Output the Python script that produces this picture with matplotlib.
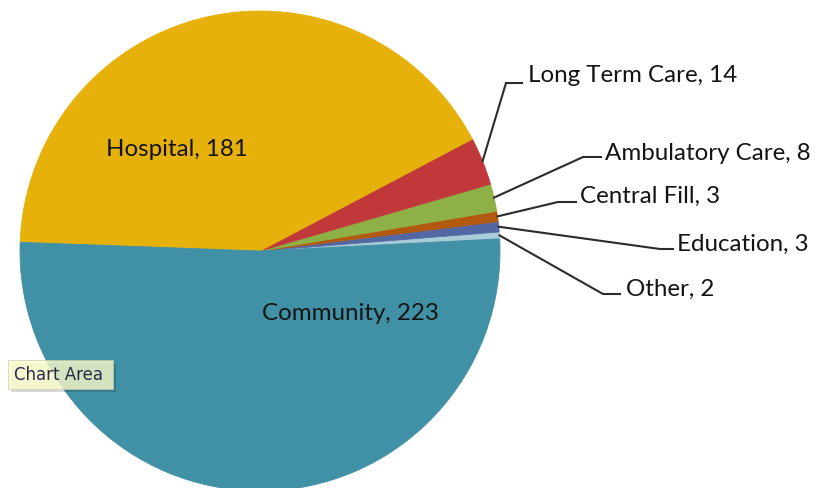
import matplotlib
matplotlib.use("Agg")
import matplotlib.pyplot as plt
import numpy as np
from matplotlib.patches import FancyBboxPatch

# ---- data ----
categories = ["Other", "Education", "Central Fill", "Ambulatory Care",
              "Long Term Care", "Hospital", "Community"]
values = [2, 3, 3, 8, 14, 181, 223]
colors = ["#a9ccd8", "#5368a3", "#b3590f", "#8db146", "#c0383a", "#e6b10a", "#4091a5"]

# ---- layout (pixel coordinates, y measured from top) ----
W, H = 821, 488
center_px = (260, 251)
radius_px = 240
start_angle = 2.9
inside_labels = {"Hospital": (177, 150), "Community": (350, 313)}
# elbow point, end of horizontal stub, text x, text center y
outside_labels = {
    "Long Term Care": ((506, 83), 522, 528, 76),
    "Ambulatory Care": ((583, 157), 601, 605, 154),
    "Central Fill": ((558, 202), 576, 580, 196),
    "Education": ((660, 249), 673, 677, 244),
    "Other": ((603, 294), 620, 626, 289),
}

plt.rcParams['font.family'] = ['Lato', 'DejaVu Sans']
fig = plt.figure(figsize=(W / 100, H / 100), dpi=100)
ax = fig.add_axes([0, 0, 1, 1])

def py(y):
    return H - y

wedges, _ = ax.pie(values, colors=colors, startangle=start_angle, counterclock=True,
                   center=(center_px[0], py(center_px[1])), radius=radius_px,
                   wedgeprops=dict(linewidth=0.6, edgecolor=None))
for w, c in zip(wedges, colors):
    w.set_edgecolor(c)

ax.set_xlim(0, W)
ax.set_ylim(0, H)
ax.set_aspect('equal')
ax.axis('off')

fs = 17.4
txt_color = "#141414"
for name, v in zip(categories, values):
    label = f"{name}, {v}"
    if name in inside_labels:
        x, y = inside_labels[name]
        ax.text(x, py(y), label, ha='center', va='center', fontsize=fs, color=txt_color)
    else:
        w = wedges[categories.index(name)]
        mid = np.deg2rad((w.theta1 + w.theta2) / 2)
        sx = center_px[0] + radius_px * np.cos(mid)
        sy = py(center_px[1]) + radius_px * np.sin(mid)
        (ex, ey), hx, tx, ty = outside_labels[name]
        ax.plot([sx, ex, hx], [sy, py(ey), py(ey)], color="#2b2b2b", lw=1.5,
                solid_joinstyle='miter', clip_on=False)
        ax.text(tx, py(ty), label, ha='left', va='center', fontsize=fs, color=txt_color)

# "Chart Area" tooltip
shadow = FancyBboxPatch((11, py(392)), 105, 28, boxstyle="square,pad=0",
                        facecolor="#000000", alpha=0.15, edgecolor='none')
ax.add_patch(shadow)
tip = FancyBboxPatch((8, py(389)), 105, 29, boxstyle="square,pad=0",
                     facecolor="#fdfdcc", alpha=0.8, edgecolor="#c8c8b0", lw=0.6)
ax.add_patch(tip)
ax.text(14, py(374.5), "Chart Area", ha='left', va='center', fontsize=12,
        color="#2a2a4a", family=['DejaVu Sans'])

fig.savefig("out.png", dpi=100)
